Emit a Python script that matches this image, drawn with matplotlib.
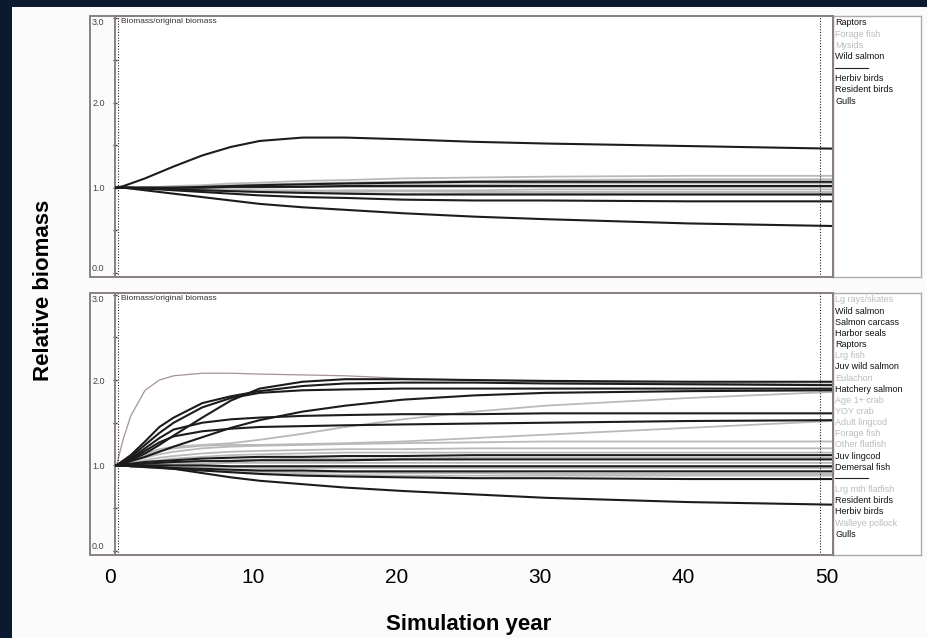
import matplotlib.pyplot as plt
from matplotlib.patches import Rectangle
from matplotlib.lines import Line2D

years = [0, 0.5, 1, 2, 3, 4, 6, 8, 10, 13, 16, 20, 25, 30, 40, 50]

# Upper panel - biomass / original biomass
top_black = [
    [1.0, 1.02, 1.05, 1.11, 1.18, 1.25, 1.38, 1.48, 1.55, 1.59, 1.59, 1.57, 1.54, 1.52, 1.49, 1.46],
    [1.0, 1.0, 0.99, 0.97, 0.95, 0.93, 0.89, 0.85, 0.81, 0.77, 0.74, 0.70, 0.66, 0.63, 0.58, 0.55],
    [1.0, 1.0, 1.0, 1.0, 1.0, 1.0, 1.01, 1.02, 1.03, 1.04, 1.05, 1.06, 1.07, 1.07, 1.07, 1.07],
    [1.0, 1.0, 1.0, 0.99, 0.98, 0.97, 0.95, 0.93, 0.91, 0.89, 0.88, 0.86, 0.85, 0.85, 0.84, 0.84],
    [1.0, 1.0, 1.0, 0.99, 0.99, 0.98, 0.97, 0.96, 0.95, 0.94, 0.93, 0.92, 0.92, 0.92, 0.92, 0.92],
    [1.0, 1.0, 1.0, 1.0, 1.0, 1.0, 1.0, 1.01, 1.01, 1.01, 1.02, 1.02, 1.02, 1.02, 1.02, 1.02],
]
top_gray = [
    [1.0, 1.0, 1.0, 1.01, 1.01, 1.02, 1.03, 1.05, 1.06, 1.08, 1.09, 1.11, 1.12, 1.13, 1.14, 1.14],
    [1.0, 1.0, 1.0, 1.0, 1.0, 1.0, 1.0, 1.0, 1.0, 1.01, 1.01, 1.01, 1.01, 1.01, 1.01, 1.01],
    [1.0, 1.0, 1.0, 1.0, 0.99, 0.99, 0.98, 0.98, 0.97, 0.97, 0.96, 0.96, 0.95, 0.95, 0.95, 0.95],
    [1.0, 1.0, 1.0, 0.99, 0.99, 0.98, 0.97, 0.96, 0.96, 0.96, 0.97, 0.97, 0.97, 0.98, 0.98, 0.98],
    [1.0, 1.0, 1.0, 1.0, 1.01, 1.01, 1.01, 1.02, 1.02, 1.03, 1.03, 1.04, 1.04, 1.05, 1.05, 1.05],
    [1.0, 1.0, 1.0, 1.0, 1.01, 1.01, 1.02, 1.03, 1.04, 1.05, 1.06, 1.07, 1.08, 1.09, 1.10, 1.10],
    [1.0, 1.0, 1.0, 0.99, 0.99, 0.99, 0.98, 0.97, 0.96, 0.95, 0.94, 0.93, 0.93, 0.93, 0.93, 0.93],
]

# Lower panel
bottom_black = [
    [1.0, 1.06, 1.12, 1.28, 1.45, 1.56, 1.73, 1.81, 1.87, 1.93, 1.96, 1.97, 1.97, 1.96, 1.95, 1.94],
    [1.0, 1.05, 1.10, 1.24, 1.38, 1.50, 1.68, 1.79, 1.85, 1.88, 1.89, 1.90, 1.90, 1.90, 1.90, 1.90],
    [1.0, 1.03, 1.06, 1.14, 1.24, 1.35, 1.56, 1.76, 1.90, 1.98, 2.01, 2.01, 2.00, 1.99, 1.98, 1.98],
    [1.0, 1.02, 1.05, 1.10, 1.16, 1.22, 1.33, 1.44, 1.53, 1.63, 1.70, 1.77, 1.82, 1.85, 1.87, 1.88],
    [1.0, 1.04, 1.08, 1.20, 1.32, 1.42, 1.50, 1.54, 1.56, 1.58, 1.59, 1.60, 1.60, 1.61, 1.61, 1.61],
    [1.0, 1.03, 1.07, 1.17, 1.27, 1.34, 1.40, 1.43, 1.45, 1.46, 1.47, 1.48, 1.49, 1.50, 1.52, 1.53],
    [1.0, 1.01, 1.02, 1.04, 1.05, 1.06, 1.08, 1.09, 1.10, 1.10, 1.11, 1.11, 1.12, 1.12, 1.12, 1.12],
    [1.0, 1.0, 1.01, 1.02, 1.03, 1.04, 1.05, 1.05, 1.06, 1.06, 1.06, 1.07, 1.07, 1.07, 1.07, 1.07],
    [1.0, 1.0, 0.99, 0.98, 0.97, 0.96, 0.94, 0.92, 0.90, 0.88, 0.87, 0.86, 0.85, 0.85, 0.84, 0.84],
    [1.0, 1.0, 1.0, 0.99, 0.98, 0.96, 0.91, 0.86, 0.82, 0.78, 0.74, 0.70, 0.66, 0.62, 0.57, 0.54],
    [1.0, 1.0, 0.99, 0.99, 0.98, 0.97, 0.96, 0.95, 0.94, 0.94, 0.93, 0.93, 0.93, 0.93, 0.93, 0.93],
    [1.0, 1.0, 1.0, 1.0, 1.0, 1.0, 1.0, 0.99, 0.99, 0.99, 0.99, 0.99, 0.99, 0.99, 0.99, 0.99],
]
bottom_gray = [
    [1.0, 1.03, 1.07, 1.14, 1.19, 1.22, 1.24, 1.26, 1.30, 1.37, 1.45, 1.54, 1.63, 1.70, 1.79, 1.86],
    [1.0, 1.03, 1.06, 1.12, 1.17, 1.20, 1.23, 1.24, 1.24, 1.25, 1.26, 1.28, 1.32, 1.36, 1.44, 1.52],
    [1.0, 1.02, 1.04, 1.09, 1.13, 1.16, 1.20, 1.22, 1.23, 1.24, 1.25, 1.26, 1.27, 1.28, 1.28, 1.28],
    [1.0, 1.01, 1.03, 1.06, 1.09, 1.11, 1.14, 1.16, 1.17, 1.18, 1.19, 1.19, 1.20, 1.20, 1.20, 1.20],
    [1.0, 1.01, 1.02, 1.04, 1.06, 1.08, 1.10, 1.12, 1.13, 1.14, 1.15, 1.15, 1.15, 1.15, 1.15, 1.15],
    [1.0, 1.0, 1.01, 1.02, 1.03, 1.04, 1.05, 1.06, 1.07, 1.08, 1.08, 1.08, 1.09, 1.09, 1.09, 1.09],
    [1.0, 1.0, 1.0, 1.01, 1.01, 1.02, 1.02, 1.03, 1.03, 1.03, 1.03, 1.03, 1.03, 1.03, 1.03, 1.03],
    [1.0, 1.0, 1.0, 0.99, 0.99, 0.99, 0.98, 0.98, 0.97, 0.97, 0.97, 0.97, 0.97, 0.97, 0.97, 0.97],
    [1.0, 1.0, 0.99, 0.98, 0.97, 0.96, 0.95, 0.94, 0.93, 0.92, 0.92, 0.91, 0.91, 0.90, 0.90, 0.90],
    [1.0, 1.0, 0.99, 0.98, 0.97, 0.96, 0.94, 0.92, 0.91, 0.90, 0.89, 0.88, 0.88, 0.88, 0.88, 0.88],
]
# fast riser drawn as a thin brownish line
bottom_thin = [1.0, 1.32, 1.58, 1.88, 2.0, 2.05, 2.08, 2.08, 2.07, 2.06, 2.05, 2.02, 2.00, 1.98, 1.96, 1.95]

# Legend entries (None = separator line); True = greyed out
top_names = ["Raptors", "Forage fish", "Mysids", "Wild salmon", None,
             "Herbiv birds", "Resident birds", "Gulls"]
top_faded = [False, True, True, False, False, False, False, False]
bottom_names = ["Lg rays/skates", "Wild salmon", "Salmon carcass", "Harbor seals", "Raptors",
                "Lrg fish", "Juv wild salmon", "Eulachon", "Hatchery salmon", "Age 1+ crab",
                "YOY crab", "Adult lingcod", "Forage fish", "Other flatfish", "Juv lingcod",
                "Demersal fish", None, "Lrg mth flatfish", "Resident birds", "Herbiv birds",
                "Walleye pollock", "Gulls"]
bottom_faded = [True, False, False, False, False, True, False, True, False, True,
                True, True, True, True, False, False, False, True, False, False,
                True, False]

y_ticks = [0, 1, 2, 3]
y_ticklabels = ["0.0", "1.0", "2.0", "3.0"]
x_ticks = [0, 10, 20, 30, 40, 50]

W, H = 927, 638
navy = "#0c1a30"
frame_col = "#8a8080"

fig = plt.figure(figsize=(W / 100, H / 100), dpi=100)
fig.patch.set_facecolor(navy)
# white page with a navy strip on top and left
fig.add_artist(Rectangle((12 / W, 0), 1, 1 - 7 / H, transform=fig.transFigure,
                         facecolor="#fbfbfb", edgecolor="none", zorder=-10))


def box(px_left, px_top, px_right, px_bottom):
    return [px_left / W, 1 - px_bottom / H, (px_right - px_left) / W, (px_bottom - px_top) / H]


def draw_panel(top_px, bottom_px, black, gray, names, faded, thin=None):
    ax = fig.add_axes(box(115, top_px, 833, bottom_px))
    ax.set_facecolor("white")
    for s in gray:
        ax.plot(years, s, color="#b9b9b9", lw=1.3, zorder=2)
    if thin is not None:
        ax.plot(years, thin, color="#a49494", lw=0.9, zorder=2)
    for s in black:
        ax.plot(years, s, color="#1c1c1c", lw=1.5, zorder=3)
    ax.axvline(0.1, color="#222", lw=0.8, ls=(0, (1, 1.5)), zorder=4)
    ax.axvline(49.16, color="#222", lw=0.8, ls=(0, (1, 1.5)), zorder=4)
    ax.set_xlim(-0.1, 50.07)
    ax.set_ylim(-0.05, 3.02)
    ax.set_xticks([])
    ax.set_yticks(y_ticks)
    ax.set_yticklabels(y_ticklabels, fontsize=6.5, color="#444", family="Liberation Sans")
    # EwE keeps the end labels inside the frame
    ax.get_yticklabels()[0].set_va("bottom")
    ax.get_yticklabels()[3].set_va("top")
    ax.set_yticks([0.5, 1.5, 2.5], minor=True)
    ax.tick_params(axis="y", which="both", direction="inout", length=3, width=1,
                   color="#333", pad=6)
    for sp in ax.spines.values():
        sp.set_color(frame_col)
        sp.set_linewidth(1.4)
    ax.text(0.3, 2.96, "Biomass/original biomass", fontsize=6, color="#333",
            family="Liberation Sans", va="center")

    # outer frame round the tick label gutter
    fig.add_artist(Rectangle((90 / W, 1 - bottom_px / H), (833 - 90) / W,
                             (bottom_px - top_px) / H, transform=fig.transFigure,
                             fill=False, edgecolor=frame_col, lw=1.4, zorder=5))

    # legend box on the right
    lax = fig.add_axes(box(833, top_px, 921, bottom_px))
    lax.set_xlim(0, 1)
    lax.set_ylim(0, 1)
    lax.set_xticks([])
    lax.set_yticks([])
    lax.set_facecolor("white")
    for sp in lax.spines.values():
        sp.set_color("#b0aaaa")
        sp.set_linewidth(1.0)
    lax.spines["left"].set_color(frame_col)
    hpx = bottom_px - top_px
    for i, (name, f) in enumerate(zip(names, faded)):
        yy = 1 - (7 + 11.15 * i) / hpx
        if name is None:
            lax.add_line(Line2D([0.02, 0.4], [yy, yy], color="#222", lw=0.8))
        else:
            lax.text(0.025, yy, name, fontsize=6.5, family="Liberation Sans",
                     color="#bcbcbc" if f else "#111", va="center", ha="left")
    return ax


draw_panel(16, 277, top_black, top_gray, top_names, top_faded)
draw_panel(293, 555, bottom_black, bottom_gray, bottom_names, bottom_faded, bottom_thin)

# shared outer x axis and labels
xax = fig.add_axes(box(110, 558, 827, 560))
xax.set_xlim(0, 50)
xax.set_xticks(x_ticks)
xax.set_xticklabels([str(t) for t in x_ticks], fontsize=15, family="Liberation Sans")
xax.tick_params(axis="x", length=0, pad=6)
xax.set_yticks([])
for sp in xax.spines.values():
    sp.set_visible(False)
xax.patch.set_visible(False)
xax.set_xlabel("Simulation year", fontsize=16, fontweight="bold",
               family="Liberation Sans", labelpad=19)

fig.text(44 / W, 1 - 290 / H, "Relative biomass", rotation=90, fontsize=16,
         fontweight="bold", family="Liberation Sans", ha="center", va="center")

fig.savefig("out.png", dpi=100, facecolor=fig.get_facecolor())
